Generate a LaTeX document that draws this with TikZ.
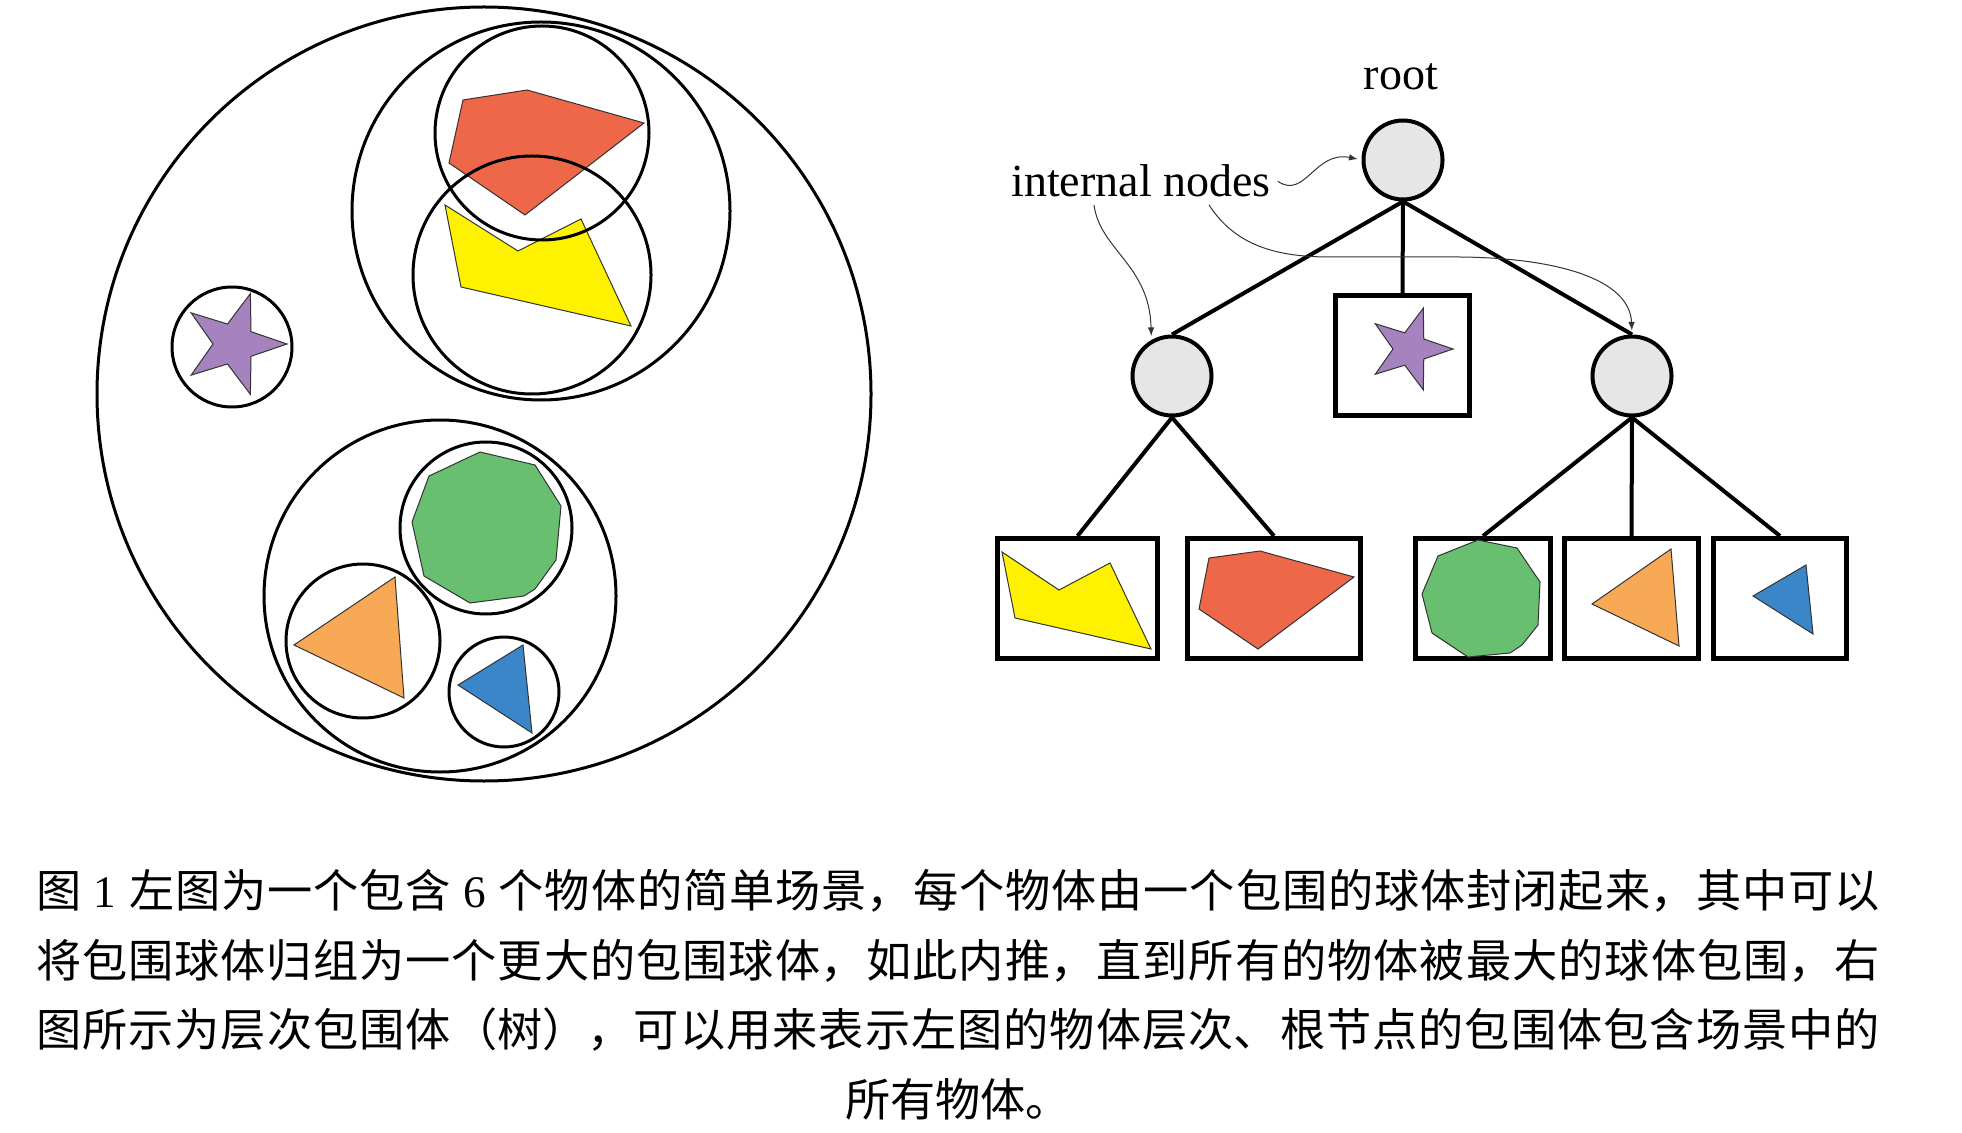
\documentclass[tikz,border=0pt]{standalone}
\usepackage{fontspec}
\setmainfont{Liberation Serif}
\newfontfamily\cjkfont{Noto Sans CJK SC}

\definecolor{objred}{HTML}{EE6749}
\definecolor{objyellow}{HTML}{FFF200}
\definecolor{objgreen}{HTML}{67BF6F}
\definecolor{objorange}{HTML}{F8A956}
\definecolor{objblue}{HTML}{3A86C8}
\definecolor{objpurple}{HTML}{A682BF}
\definecolor{nodegray}{HTML}{E6E6E6}

\begin{document}
\begin{tikzpicture}[x=.5pt,y=-.5pt,
  sphere/.style={line width=1.5pt},
  obj/.style={draw=black!80,line width=.5pt},
  inode/.style={circle,draw,line width=2pt,fill=nodegray,minimum size=39.5pt,inner sep=0pt},
  leaf/.style={rectangle,draw,line width=2.5pt,minimum height=60pt,inner sep=0pt},
  tedge/.style={line width=2pt},
  hint/.style={-latex,black!80,line width=.5pt,shorten >=2pt},
  lbl/.style={font=\fontsize{23}{28}\selectfont}]
\useasboundingbox (0,0) rectangle (1962,1133);

% scene objects
\filldraw[obj,fill=objred] (463,100) -- (527,90) -- (644,123) -- (525,215) -- (449,163) -- cycle;
\filldraw[obj,fill=objyellow] (445,205) -- (518,251) -- (581,219) -- (631,326) -- (461,287) -- cycle;
\begin{scope}[shift={(234,344)}]
\filldraw[obj,fill=objpurple] (0:53) \foreach \i in {1,...,9} {-- (\i*36:{mod(\i,2)==1 ? 21 : 53})} -- cycle;
\end{scope}
\filldraw[obj,fill=objgreen] (480,452) -- (535,465) -- (561,506) -- (556,560) -- (535,589) -- (524,596)
  -- (470,603) -- (424,576) -- (412,522) -- (429,476) -- cycle;
\filldraw[obj,fill=objorange] (395,577) -- (404,698) -- (294,645) -- cycle;
\filldraw[obj,fill=objblue] (523,645) -- (532,733) -- (458,685) -- cycle;

% bounding spheres
\draw[sphere] (484,394) circle (387);
\draw[sphere] (541,211) circle (189);
\draw[sphere] (542,133) circle (107);
\draw[sphere] (532,275) circle (119);
\draw[sphere] (232,347) circle (60);
\draw[sphere] (440,596) circle (176);
\draw[sphere] (486,528) circle (86);
\draw[sphere] (363,641) circle (77);
\draw[sphere] (504,692) circle (55);

% hierarchy
\node[inode] (root) at (1403,160) {};
\node[lbl,anchor=base] (rootlbl) at (1401,90) {root};
\node[inode] (lin) at (1172,376) {};
\node[inode] (rin) at (1632,376) {};
\node[leaf,minimum width=67pt] (starbox) at (1402.5,355.5) {};
\node[leaf,minimum width=80pt] (b1) at (1077.5,598.5) {};
\node[leaf,minimum width=86.5pt] (b2) at (1274,598.5) {};
\node[leaf,minimum width=67.5pt] (b3) at (1483,598.5) {};
\node[leaf,minimum width=67pt] (b4) at (1631.5,598.5) {};
\node[leaf,minimum width=66.5pt] (b5) at (1780,598.5) {};

\draw[tedge] (root.south) -- (lin.north);
\draw[tedge] (root.south) -- (starbox.north);
\draw[tedge] (root.south) -- (rin.north);
\draw[tedge] (lin.south) -- (b1.north);
\draw[tedge] (lin.south) -- (b2.north);
\draw[tedge] (rin.south) -- (b3.north);
\draw[tedge] (rin.south) -- (b4.north);
\draw[tedge] (rin.south) -- (b5.north);

\begin{scope}[shift={(1410,349)}]
\filldraw[obj,fill=objpurple] (0:43) \foreach \i in {1,...,9} {-- (\i*36:{mod(\i,2)==1 ? 17 : 43})} -- cycle;
\end{scope}
\filldraw[obj,fill=objyellow] (1002,552) -- (1059,590) -- (1110,563) -- (1151,649) -- (1015,618) -- cycle;
\filldraw[obj,fill=objred] (1209,558) -- (1260,551) -- (1354,577) -- (1258,649) -- (1199,609) -- cycle;
\filldraw[obj,fill=objgreen] (1478,540) -- (1517,548) -- (1540,582) -- (1538,625) -- (1522,645) -- (1510,653)
  -- (1468,657) -- (1432,633) -- (1422,594) -- (1438,556) -- cycle;
\filldraw[obj,fill=objorange] (1671,549) -- (1679,646) -- (1592,604) -- cycle;
\filldraw[obj,fill=objblue] (1806,565) -- (1813,634) -- (1753,596) -- cycle;

% labels
\node[lbl,anchor=base] (hintlbl) at (1141,197) {internal nodes};
\coordinate (h1) at (1094,205);
\coordinate (h2) at (1209,205);
\draw[hint] (hintlbl.east) .. controls (1305,200) and (1315,150) .. (root.west);
\draw[hint] (h1) .. controls (1100,250) and (1150,265) .. (lin.120);
\draw[hint] (h2) .. controls (1235,245) and (1275,257) .. (1330,257) -- (1460,257)
  .. controls (1560,258) and (1630,280) .. (rin.north);

% caption
\node[anchor=north,text width=922pt,align=justify,inner sep=0pt,
  font=\fontsize{22.6}{34.8}\selectfont] (caption) at (958,869) {%
  \XeTeXlinebreaklocale "zh"\XeTeXlinebreakskip=0pt plus 2pt minus .5pt
  {\parfillskip=0pt
  {\cjkfont 图} 1 {\cjkfont 左图为一个包含} 6 {\cjkfont 个物体的简单场景，每个物体由一个包围的球体封闭起来，其中可以}\linebreak
  {\cjkfont 将包围球体归组为一个更大的包围球体，如此内推，直到所有的物体被最大的球体包围，右}\linebreak
  {\cjkfont 图所示为层次包围体（树），可以用来表示左图的物体层次、根节点的包围体包含场景中的}\par}
  {\centering\cjkfont 所有物体。\par}};
\end{tikzpicture}
\end{document}
